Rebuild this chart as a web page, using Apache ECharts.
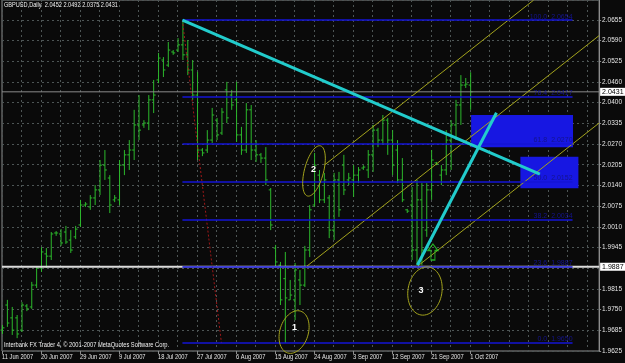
<!DOCTYPE html>
<html><head><meta charset="utf-8">
<script src="https://cdn.jsdelivr.net/npm/echarts/dist/echarts.min.js"></script>
<style>html,body{margin:0;padding:0;background:#0a0a0a;overflow:hidden}#c{width:625px;height:363px}</style>
</head><body><div id="c"></div><script>
// ---------- data ----------
var xTickLabels = ['11 Jun 2007','20 Jun 2007','29 Jun 2007','9 Jul 2007','18 Jul 2007','27 Jul 2007','6 Aug 2007','15 Aug 2007','24 Aug 2007','3 Sep 2007','12 Sep 2007','21 Sep 2007','1 Oct 2007'];
var yTickLabels = ['1.9625','1.9685','1.9750','1.9815','','1.9945','2.0010','2.0075','2.0140','2.0205','2.0270','2.0335','2.0400','2.0460','2.0525','2.0590','2.0655'];
var opens  = [1.9690,1.9768,1.9728,1.9728,1.9690,1.9765,1.9762,1.9830,1.9883,1.9927,1.9920,1.9992,1.9989,1.9995,1.9970,1.9980,2.0017,2.0079,2.0073,2.0101,2.0126,2.0203,2.0163,2.0095,2.0095,2.0203,2.0235,2.0250,2.0328,2.0328,2.0334,2.0406,2.0468,2.0530,2.0514,2.0555,2.0561,2.0577,2.0546,2.0499,2.0421,2.0250,2.0250,2.0281,2.0343,2.0303,2.0437,2.0421,2.0406,2.0297,2.0250,2.0375,2.0250,2.0235,2.0225,2.0126,1.9945,1.9892,1.9850,1.9784,1.9784,1.9846,1.9830,1.9939,2.0079,2.0172,2.0095,2.0101,2.0001,2.0157,2.0203,2.0157,2.0157,2.0172,2.0194,2.0188,2.0235,2.0312,2.0281,2.0343,2.0281,2.0250,2.0157,2.0064,2.0079,1.9939,2.0095,2.0001,2.0126,2.0210,2.0172,2.0188,2.0281,2.0328,2.0390,2.0452,2.0452];
var highs  = [1.9706,1.9784,1.9762,1.9737,1.9777,1.9771,1.9840,1.9889,1.9948,1.9945,1.9995,1.9998,2.0004,2.0014,2.0001,2.0014,2.0095,2.0088,2.0110,2.0141,2.0219,2.0250,2.0172,2.0110,2.0219,2.0250,2.0281,2.0375,2.0421,2.0343,2.0421,2.0468,2.0552,2.0539,2.0586,2.0561,2.0598,2.0654,2.0592,2.0530,2.0493,2.0256,2.0312,2.0381,2.0350,2.0381,2.0462,2.0437,2.0462,2.0322,2.0396,2.0390,2.0281,2.0241,2.0259,2.0132,1.9955,1.9902,1.9933,1.9846,1.9899,1.9877,1.9952,2.0079,2.0241,2.0188,2.0179,2.0110,2.0179,2.0182,2.0235,2.0179,2.0203,2.0197,2.0203,2.0250,2.0328,2.0319,2.0359,2.0350,2.0312,2.0281,2.0225,2.0067,2.0135,2.0157,2.0147,2.0147,2.0250,2.0213,2.0203,2.0312,2.0343,2.0406,2.0483,2.0474,2.0492];
var lows   = [1.9678,1.9700,1.9675,1.9665,1.9684,1.9749,1.9756,1.9821,1.9871,1.9883,1.9908,1.9983,1.9952,1.9958,1.9930,1.9973,2.0011,2.0073,2.0064,2.0079,2.0110,2.0157,2.0054,2.0088,2.0079,2.0172,2.0188,2.0219,2.0281,2.0319,2.0312,2.0365,2.0458,2.0477,2.0508,2.0546,2.0555,2.0530,2.0483,2.0406,2.0219,2.0231,2.0241,2.0272,2.0281,2.0297,2.0334,2.0375,2.0275,2.0235,2.0241,2.0219,2.0213,2.0210,2.0141,2.0001,1.9883,1.9768,1.9650,1.9784,1.9721,1.9768,1.9824,1.9917,2.0073,2.0085,2.0085,1.9976,1.9970,2.0042,2.0110,2.0141,2.0104,2.0147,2.0188,2.0163,2.0182,2.0259,2.0266,2.0235,2.0172,2.0147,2.0088,2.0054,1.9908,1.9892,1.9892,1.9980,2.0095,2.0203,2.0141,2.0172,2.0188,2.0281,2.0328,2.0443,2.0375];
var closes = [1.9697,1.9712,1.9690,1.9678,1.9768,1.9756,1.9830,1.9883,1.9933,1.9920,1.9989,1.9992,1.9961,1.9964,1.9939,2.0004,2.0079,2.0082,2.0101,2.0126,2.0203,2.0188,2.0079,2.0101,2.0203,2.0235,2.0250,2.0328,2.0312,2.0334,2.0406,2.0421,2.0536,2.0499,2.0561,2.0552,2.0577,2.0546,2.0499,2.0421,2.0250,2.0241,2.0281,2.0359,2.0297,2.0368,2.0350,2.0390,2.0297,2.0250,2.0375,2.0250,2.0235,2.0225,2.0157,2.0017,1.9902,1.9784,1.9790,1.9799,1.9877,1.9830,1.9939,2.0064,2.0203,2.0095,2.0157,2.0001,2.0157,2.0064,2.0126,2.0163,2.0172,2.0188,2.0197,2.0235,2.0312,2.0281,2.0343,2.0281,2.0203,2.0157,2.0095,2.0060,1.9939,2.0095,1.9939,2.0126,2.0219,2.0206,2.0188,2.0281,2.0328,2.0390,2.0452,2.0455,2.0431];
var titleText = 'GBPUSD,Daily  2.0452 2.0492 2.0375 2.0431';
var footerText = 'Interbank FX Trader 4, \u00a9 2001-2007 MetaQuotes Software Corp.';
var bidPrice = 2.0431;
var hLinePrice = 1.9887;
var fibHigh = 2.0654, fibLow = 1.9650, fibFrom = 37, fibTo = 117, fibAnchorTo = 45;
var fibLevels = [0, 23.6, 38.2, 50, 61.8, 76.4, 100];
var trendLines = [[37, 2.0654, 110.3, 2.0175], [85.2, 1.98925, 101.4, 2.0366]];
var channelLines = [[62.2, 1.9885, 122.45, 2.0606], [66.1, 2.0203, 109.0, 2.0716], [84.9, 1.9885, 122.45, 2.0334]];
var rects = [[96.2, 2.0259, 117.1, 2.0359], [106.3, 2.0131, 118.2, 2.0229]];
var ellipses = [[61.22, 1.9749, 58.57, 1.9619, 0.65], [65.31, 2.0263, 62.65, 2.0107, 0.37], [87.55, 1.9886, 85.92, 1.9737, 0.7]];
var marks = [[60.0, 1.9697, '1'], [63.88, 2.0188, '2'], [85.92, 1.9812, '3']];
var arrowPoint = [88.37, 1.9933];

// ---------- categories (bar dates, Saturdays skipped) ----------
var MON = ['Jan','Feb','Mar','Apr','May','Jun','Jul','Aug','Sep','Oct','Nov','Dec'];
var dates = [];
(function(){ var d = new Date(Date.UTC(2007,5,11)); while (dates.length < opens.length) { if (d.getUTCDay() !== 6) dates.push(d.getUTCDate()+' '+MON[d.getUTCMonth()]+' 2007'); d.setUTCDate(d.getUTCDate()+1);} })();

var FONT = "'Liberation Sans', Arial, sans-serif";
var XMAX = 122.449, YMIN = 1.9625, YMAX = 2.07166;
var barColor = '#2cb82c';
var barData = opens.map(function(o, i){ return [i, o, highs[i], lows[i], closes[i], dates[i]]; });

function lineSeries(pts, color, width, type, z){
  return {type:'line', xAxisIndex:0, yAxisIndex:0, data:[[pts[0],pts[1]],[pts[2],pts[3]]], symbol:'none', silent:true, z:z,
    lineStyle:{color:color, width:width, type:type||'solid'}, animation:false};
}
function priceLine(price, color, width){
  var s = lineSeries([0, price, XMAX, price], color, width, 'solid', 3);
  s.endLabel = {show:true, formatter:price.toFixed(4), color:'#000', backgroundColor:'#ffffff', padding:[1,2,0,2], fontSize:7, fontFamily:FONT, distance:1};
  return s;
}

var series = [];
// rectangles
series.push({type:'custom', xAxisIndex:0, yAxisIndex:0, z:1, silent:true, data:rects,
  renderItem:function(p, api){
    var a = api.coord([api.value(0), api.value(3)]), b = api.coord([api.value(2), api.value(1)]);
    return {type:'rect', shape:{x:a[0], y:a[1], width:b[0]-a[0], height:b[1]-a[1]}, style:{fill:'#1717e2'}};
  }});
// OHLC bars
series.push({type:'custom', xAxisIndex:0, yAxisIndex:0, z:2, silent:true, data:barData,
  encode:{x:0, y:[1,2,3,4]},
  renderItem:function(p, api){
    var i = api.value(0), o = api.value(1), h = api.value(2), l = api.value(3), c = api.value(4);
    var ph = api.coord([i,h]), pl = api.coord([i,l]), po = api.coord([i,o]), pc = api.coord([i,c]);
    var x = ph[0] + 0.5;
    var st = {stroke:barColor, lineWidth:1};
    return {type:'group', children:[
      {type:'line', shape:{x1:x, y1:ph[1], x2:x, y2:pl[1]}, style:st},
      {type:'line', shape:{x1:x-2, y1:po[1], x2:x, y2:po[1]}, style:st},
      {type:'line', shape:{x1:x, y1:pc[1], x2:x+2, y2:pc[1]}, style:st}
    ]};
  }});
// price lines
series.push(priceLine(bidPrice, '#8a8a8a', 1));
series.push(priceLine(hLinePrice, '#dcdcdc', 2));
// fib anchor (dotted) + fib levels
var fibMark = fibLevels.map(function(lv){
  var pr = fibLow + (fibHigh - fibLow) * lv / 100;
  return [{coord:[fibFrom, pr], name: lv.toFixed(1) + '  ' + pr.toFixed(4)}, {coord:[fibTo, pr]}];
});
var fibS = lineSeries([fibFrom, fibHigh, fibAnchorTo, fibLow], '#a01818', 1, [2,2], 3);
fibS.markLine = {silent:true, symbol:'none', animation:false, data:fibMark,
  lineStyle:{color:'#1515d6', width:1.5, type:'solid'},
  label:{show:true, position:'insideEndTop', formatter:'{b}', color:'#14148c', fontSize:7, fontFamily:FONT, distance:0}};
series.push(fibS);
// channel lines
channelLines.forEach(function(l){ series.push(lineSeries(l, '#a3a31c', 1, 'solid', 4)); });
// trend lines
trendLines.forEach(function(l){ series.push(lineSeries(l, '#22cccc', 3, 'solid', 5)); });
// ellipses
series.push({type:'custom', xAxisIndex:0, yAxisIndex:0, z:6, silent:true, data:ellipses,
  renderItem:function(p, api){
    var a = api.coord([api.value(0), api.value(1)]), b = api.coord([api.value(2), api.value(3)]);
    var cx = (a[0]+b[0])/2, cy = (a[1]+b[1])/2, dx = b[0]-a[0], dy = b[1]-a[1];
    var ra = Math.sqrt(dx*dx+dy*dy)/2, rb = ra*api.value(4), ang = Math.atan2(dy, dx);
    var pts = [];
    for (var k=0;k<=60;k++){ var t = k/60*2*Math.PI, ex = ra*Math.cos(t), ey = rb*Math.sin(t);
      pts.push([cx + ex*Math.cos(ang) - ey*Math.sin(ang), cy + ex*Math.sin(ang) + ey*Math.cos(ang)]); }
    return {type:'polyline', shape:{points:pts}, style:{stroke:'#a3a31c', lineWidth:1, fill:null}};
  }});
// number marks
series.push({type:'custom', xAxisIndex:0, yAxisIndex:0, z:7, silent:true, data:marks,
  renderItem:function(p, api){
    var c = api.coord([api.value(0), api.value(1)]);
    var big = api.value(2) === '3';
    return {type:'text', x:c[0], y:c[1], style:{text:api.value(2), fill: big ? '#22e022' : '#ffffff',
      font: (big ? 'bold 20px ' : 'bold 9px ') + FONT, textAlign:'center', textVerticalAlign:'middle'}};
  }});
// arrow
series.push({type:'scatter', xAxisIndex:0, yAxisIndex:0, z:7, silent:true, data:[arrowPoint],
  symbol:'path://M5,0 L10,7 L7,7 L7,17 L3,17 L3,7 L0,7 Z', symbolSize:[10,16],
  itemStyle:{color:'rgba(0,0,0,0)', borderColor:'#2ad42a', borderWidth:1.2}, animation:false});
// date labels along the time axis (condensed, MT4-like)
series.push({type:'custom', xAxisIndex:0, yAxisIndex:0, z:8, silent:true,
  data:xTickLabels.map(function(t, k){ return [k*8, YMIN, t]; }),
  renderItem:function(p, api){
    var c = api.coord([api.value(0), api.value(1)]);
    return {type:'group', children:[
      {type:'line', shape:{x1:Math.round(c[0])+0.5, y1:c[1], x2:Math.round(c[0])+0.5, y2:c[1]+3}, style:{stroke:'#8c8c8c', lineWidth:1}},
      {type:'text', x:c[0], y:c[1]+3, scaleX:0.82, style:{text:api.value(2), fill:'#e6e6e6', font:'7px '+FONT, textAlign:'left', textVerticalAlign:'top'}}
    ]};
  }});

var gridLine = {show:true, lineStyle:{color:'#4d5555', width:1, type:[2,3]}};
var option = {
  backgroundColor:'#0a0a0a',
  animation:false,
  grid:{left:2, right:23, top:0, bottom:12, show:true, borderColor:'#8c8c8c', borderWidth:1, backgroundColor:'transparent'},
  xAxis:[{type:'value', min:0, max:XMAX, interval:4, position:'bottom',
    axisLine:{show:false}, axisTick:{show:false}, splitLine:gridLine, axisLabel:{show:false}}],
  yAxis:[
    {type:'value', min:YMIN, max:YMAX, show:false, splitLine:{show:false}},
    {type:'value', min:0, max:16.957, interval:1, position:'right',
      axisLine:{show:true, lineStyle:{color:'#8c8c8c'}}, axisTick:{show:true, length:2, lineStyle:{color:'#8c8c8c'}},
      splitLine:gridLine,
      axisLabel:{show:true, margin:3, fontSize:6.5, color:'#e6e6e6', fontFamily:FONT, showMaxLabel:false,
        formatter:function(v){ return yTickLabels[v] || ''; }}}
  ],
  graphic:[
    {type:'text', x:4, y:2, z:10, scaleX:0.8, style:{text:titleText, fill:'#f0f0f0', font:'7px '+FONT}},
    {type:'text', x:4, y:342, z:10, scaleX:0.82, style:{text:footerText, fill:'#f0f0f0', font:'7px '+FONT}}
  ],
  series:series
};
var chart = echarts.init(document.getElementById('c'), null, {renderer:'canvas'});
chart.setOption(option);
</script></body></html>
